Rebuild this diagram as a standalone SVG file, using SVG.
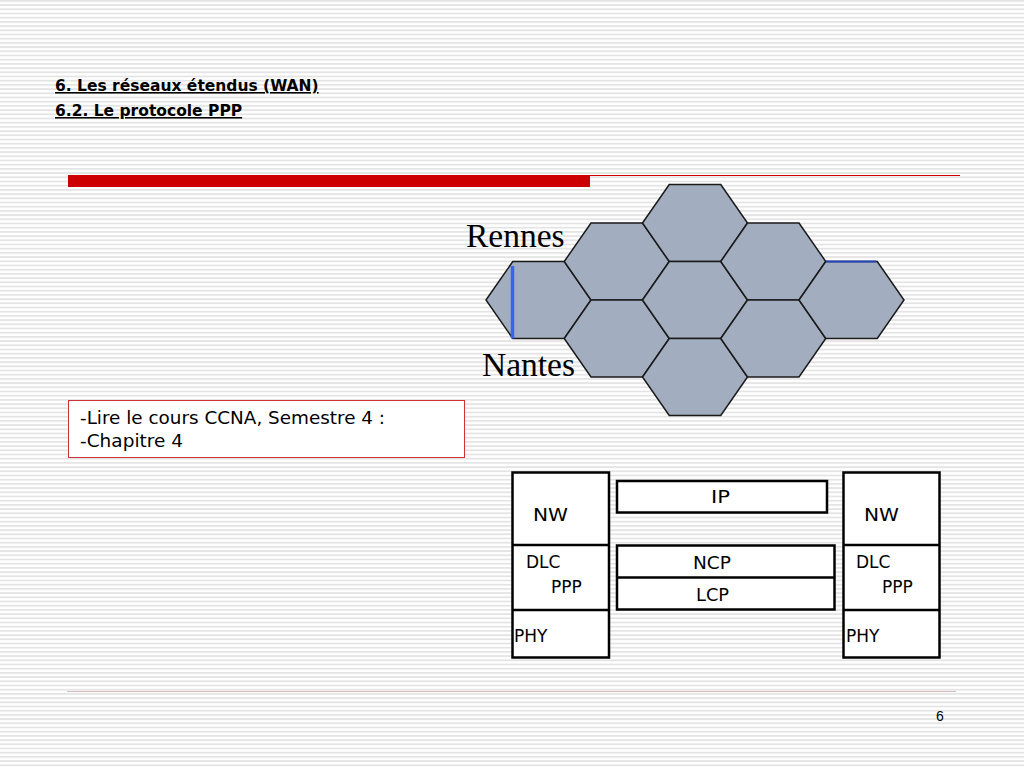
<svg xmlns="http://www.w3.org/2000/svg" width="1024" height="768" viewBox="0 0 1024 768">
<defs>
<pattern id="stripes" x="0" y="0" width="8" height="4.2" patternUnits="userSpaceOnUse">
<rect x="0" y="0" width="8" height="1.8" fill="#e4e4e4"/>
</pattern>
<polygon id="hx" points="-52.5,0 -25.75,-38.5 25.75,-38.5 52.5,0 25.75,38.5 -25.75,38.5"/>
</defs>
<style>
.title{font-family:"DejaVu Sans",Verdana,sans-serif;font-weight:bold;font-size:15.5px;fill:#000;text-decoration:underline}
.city{font-family:"Liberation Serif","Times New Roman",serif;font-size:33.5px;fill:#000}
.hex{fill:#a2aebf;stroke:#1a1a1a;stroke-width:1.5;stroke-linejoin:miter}
.box{fill:#fff;stroke:#000;stroke-width:2.5}
.lbl{font-family:"DejaVu Sans",sans-serif;font-size:17px;fill:#000}
.note{font-family:"DejaVu Sans",sans-serif;font-size:17px;fill:#000}
</style>
<rect width="1024" height="768" fill="#fff"/>
<rect width="1024" height="768" fill="url(#stripes)"/>

<g id="header">
<text class="title" x="55" y="91">6. Les réseaux étendus (WAN)</text>
<text class="title" x="55" y="116">6.2. Le protocole PPP</text>
<rect x="68" y="175" width="522" height="12" fill="#cc0000"/>
<line x1="590" y1="175.5" x2="960" y2="175.5" stroke="#cc0000" stroke-width="1"/>
</g>

<g id="network">
<use href="#hx" class="hex" x="538.5" y="300"/>
<use href="#hx" class="hex" x="616.75" y="261.5"/>
<use href="#hx" class="hex" x="616.75" y="338.5"/>
<use href="#hx" class="hex" x="695" y="223"/>
<use href="#hx" class="hex" x="695" y="300"/>
<use href="#hx" class="hex" x="695" y="377"/>
<use href="#hx" class="hex" x="773.25" y="261.5"/>
<use href="#hx" class="hex" x="773.25" y="338.5"/>
<use href="#hx" class="hex" x="851.5" y="300"/>
<line x1="512.5" y1="266" x2="512.5" y2="338.5" stroke="#3a63f0" stroke-width="3.5"/>
<line x1="826" y1="261.5" x2="876" y2="261.5" stroke="#2244b8" stroke-width="2"/>
<text class="city" x="466" y="247">Rennes</text>
<text class="city" x="482" y="376">Nantes</text>
</g>

<g id="note">
<rect x="68.5" y="400.5" width="396" height="57" fill="#fff" stroke="#cc3333" stroke-width="1"/>
<text class="note" x="80" y="424" textLength="305" lengthAdjust="spacingAndGlyphs">-Lire le cours CCNA, Semestre 4 :</text>
<text class="note" x="80" y="447" textLength="103" lengthAdjust="spacingAndGlyphs">-Chapitre 4</text>
</g>

<g id="stack-left">
<rect class="box" x="512.5" y="472.5" width="96.5" height="185"/>
<line x1="512.5" y1="545" x2="609" y2="545" stroke="#000" stroke-width="2.5"/>
<line x1="512.5" y1="610" x2="609" y2="610" stroke="#000" stroke-width="2.5"/>
<text class="lbl" x="533" y="521" textLength="35" lengthAdjust="spacingAndGlyphs">NW</text>
<text class="lbl" x="526" y="568">DLC</text>
<text class="lbl" x="551" y="593">PPP</text>
<text class="lbl" x="514" y="642">PHY</text>
</g>

<g id="stack-right">
<rect class="box" x="843.5" y="472.5" width="96" height="185"/>
<line x1="843.5" y1="545" x2="939.5" y2="545" stroke="#000" stroke-width="2.5"/>
<line x1="843.5" y1="610" x2="939.5" y2="610" stroke="#000" stroke-width="2.5"/>
<text class="lbl" x="864" y="521" textLength="35" lengthAdjust="spacingAndGlyphs">NW</text>
<text class="lbl" x="856" y="568">DLC</text>
<text class="lbl" x="882" y="593">PPP</text>
<text class="lbl" x="846" y="642">PHY</text>
</g>

<g id="ip">
<rect class="box" x="617" y="481" width="210" height="31.5"/>
<text class="lbl" x="711" y="503" textLength="19" lengthAdjust="spacingAndGlyphs">IP</text>
</g>

<g id="ncp-lcp">
<rect class="box" x="617" y="545.5" width="217.5" height="64"/>
<line x1="617" y1="577.5" x2="834.5" y2="577.5" stroke="#000" stroke-width="2.5"/>
<text class="lbl" x="693" y="569" textLength="38" lengthAdjust="spacingAndGlyphs">NCP</text>
<text class="lbl" x="696" y="601" textLength="33" lengthAdjust="spacingAndGlyphs">LCP</text>
</g>

<g id="footer">
<line x1="67" y1="691.5" x2="956" y2="691.5" stroke="#d3bcbc" stroke-width="1"/>
<text x="936" y="721" style="font-family:'Liberation Sans',Arial,sans-serif;font-size:14px;fill:#000">6</text>
</g>
</svg>
